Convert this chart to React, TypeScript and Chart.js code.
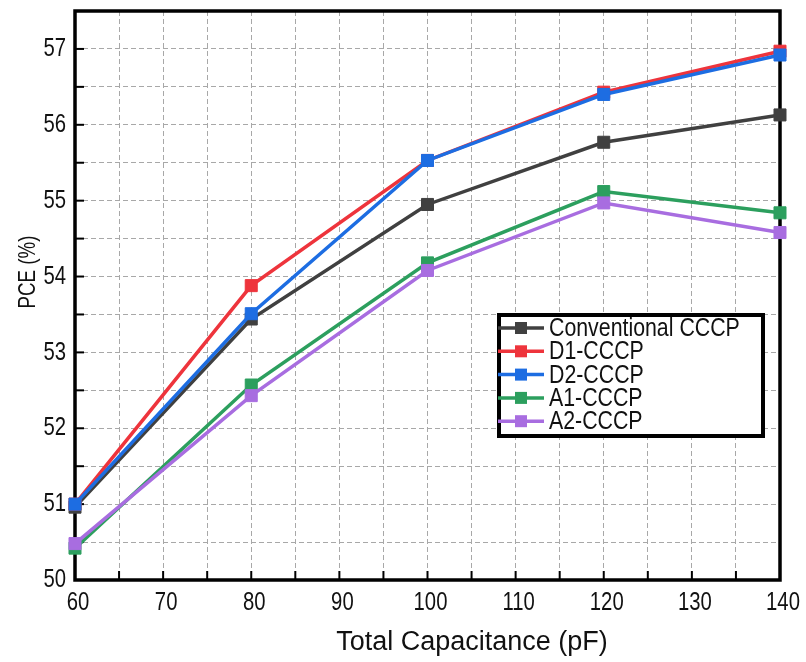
import { useEffect, useRef } from "react";
import { Chart, registerables } from "chart.js";

Chart.register(...registerables);

// Total capacitance (pF) and PCE (%) for each charge-pump variant
const capacitance = [60, 80, 100, 120, 140];
const conventional = [50.96, 53.44, 54.95, 55.77, 56.13];
const d1 = [51.0, 53.88, 55.53, 56.43, 56.97];
const d2 = [51.0, 53.51, 55.53, 56.4, 56.92];
const a1 = [50.42, 52.57, 54.18, 55.12, 54.84];
const a2 = [50.48, 52.43, 54.08, 54.97, 54.58];

const seriesNames = ["Conventional CCCP", "D1-CCCP", "D2-CCCP", "A1-CCCP", "A2-CCCP"];
const seriesValues = [conventional, d1, d2, a1, a2];
const seriesColors = ["#404040", "#ee343c", "#1d6de2", "#2c9f5e", "#a86de0"];

const xLabelTicks = [60, 70, 80, 90, 100, 110, 120, 130, 140];
const yLabelTicks = [50, 51, 52, 53, 54, 55, 56, 57];

const X_MIN = 60;
const X_MAX = 140;
const Y_MIN = 50;
const Y_MAX = 57.5;

const FONT = "'Liberation Sans', Arial, sans-serif";

// Text drawn with a horizontal squeeze, like a condensed face
function squeezedText(
  ctx: CanvasRenderingContext2D,
  text: string,
  x: number,
  y: number,
  size: number,
  squeeze: number,
  align: CanvasTextAlign
) {
  ctx.save();
  ctx.translate(x, y);
  ctx.scale(squeeze, 1);
  ctx.font = `${size}px ${FONT}`;
  ctx.textAlign = align;
  ctx.textBaseline = "middle";
  ctx.fillText(text, 0, 0);
  ctx.restore();
}

// Frame, inward tick marks, tick labels, axis titles and the boxed legend
const framePlugin = {
  id: "frame",
  beforeDatasetsDraw(chart: any) {
    const { ctx, chartArea: a, scales } = chart;
    const xs = scales.x;
    const ys = scales.y;
    ctx.save();
    ctx.strokeStyle = "#000";
    ctx.lineWidth = 2;
    for (let v = X_MIN; v <= X_MAX; v += 5) {
      const px = xs.getPixelForValue(v);
      ctx.beginPath();
      ctx.moveTo(px, a.bottom);
      ctx.lineTo(px, a.bottom - 9);
      ctx.stroke();
    }
    for (let v = Y_MIN; v <= Y_MAX; v += 0.5) {
      const py = ys.getPixelForValue(v);
      ctx.beginPath();
      ctx.moveTo(a.left, py);
      ctx.lineTo(a.left + 9, py);
      ctx.stroke();
    }
    ctx.lineWidth = 3.5;
    ctx.strokeRect(a.left, a.top, a.right - a.left, a.bottom - a.top);
    ctx.restore();
  },
  afterDraw(chart: any) {
    const { ctx, chartArea: a, scales } = chart;
    ctx.save();
    ctx.fillStyle = "#111";
    xLabelTicks.forEach((v) => {
      squeezedText(ctx, String(v), scales.x.getPixelForValue(v) + 3, a.bottom + 23, 26, 0.78, "center");
    });
    yLabelTicks.forEach((v) => {
      squeezedText(ctx, String(v), a.left - 9, scales.y.getPixelForValue(v), 26, 0.78, "right");
    });
    // axis titles
    squeezedText(ctx, "Total Capacitance (pF)", 472, 643, 27, 1.0, "center");
    ctx.translate(28, 272);
    ctx.rotate(-Math.PI / 2);
    squeezedText(ctx, "PCE (%)", 0, 0, 24, 0.78, "center");
    ctx.restore();

    // legend
    ctx.save();
    const bx = 499;
    const by = 315;
    const bw = 264;
    const bh = 121;
    ctx.fillStyle = "#fff";
    ctx.fillRect(bx, by, bw, bh);
    ctx.lineWidth = 4;
    ctx.strokeStyle = "#000";
    ctx.strokeRect(bx, by, bw, bh);
    seriesNames.forEach((name, i) => {
      const ry = 328 + i * 23.3;
      ctx.strokeStyle = seriesColors[i];
      ctx.lineWidth = 3.5;
      ctx.beginPath();
      ctx.moveTo(498, ry);
      ctx.lineTo(544, ry);
      ctx.stroke();
      ctx.fillStyle = seriesColors[i];
      ctx.fillRect(515, ry - 6, 12, 12);
      ctx.fillStyle = "#111";
      squeezedText(ctx, name, 549, ry + 1, 26, 0.82, "left");
    });
    ctx.restore();
  },
};

export default function App() {
  const canvasRef = useRef<HTMLCanvasElement | null>(null);

  useEffect(() => {
    document.body.style.margin = "0";
    const canvas = canvasRef.current;
    if (!canvas) return;

    const datasets = seriesNames.map((name, i) => ({
      label: name,
      data: capacitance.map((c, j) => ({ x: c, y: seriesValues[i][j] })),
      borderColor: seriesColors[i],
      backgroundColor: seriesColors[i],
      pointBackgroundColor: seriesColors[i],
      pointBorderColor: seriesColors[i],
      borderWidth: 3.5,
      pointStyle: "rect" as const,
      pointRadius: 8.5,
      pointBorderWidth: 1,
      tension: 0,
      clip: false as any,
      order: seriesNames.length - i,
    }));

    const chart = new Chart(canvas, {
      type: "line",
      data: { datasets },
      options: {
        animation: false,
        responsive: false,
        events: [],
        layout: { padding: { top: 11, right: 26, left: 0, bottom: 0 } },
        plugins: {
          legend: { display: false },
          tooltip: { enabled: false },
        },
        scales: {
          x: {
            type: "linear",
            min: X_MIN,
            max: X_MAX,
            afterFit(scale: any) {
              scale.height = 82;
            },
            afterBuildTicks(scale: any) {
              const t: any[] = [];
              for (let v = X_MIN; v <= X_MAX; v += 5) t.push({ value: v });
              scale.ticks = t;
            },
            ticks: { display: false, autoSkip: false },
            grid: {
              color: "#a8a8a8",
              lineWidth: 1,
              drawTicks: false,
            },
            border: { display: false, dash: [5, 3] },
          },
          y: {
            type: "linear",
            min: Y_MIN,
            max: Y_MAX,
            afterFit(scale: any) {
              scale.width = 75;
            },
            afterBuildTicks(scale: any) {
              const t: any[] = [];
              for (let v = Y_MIN; v <= Y_MAX + 1e-9; v += 0.5) t.push({ value: v });
              scale.ticks = t;
            },
            ticks: { display: false, autoSkip: false },
            grid: {
              color: "#a8a8a8",
              lineWidth: 1,
              drawTicks: false,
            },
            border: { display: false, dash: [5, 3] },
          },
        },
      },
      plugins: [framePlugin],
    });

    return () => chart.destroy();
  }, []);

  return (
    <div style={{ position: "absolute", left: 0, top: 0, width: 806, height: 662, background: "#fff" }}>
      <canvas ref={canvasRef} width={806} height={662} />
    </div>
  );
}
